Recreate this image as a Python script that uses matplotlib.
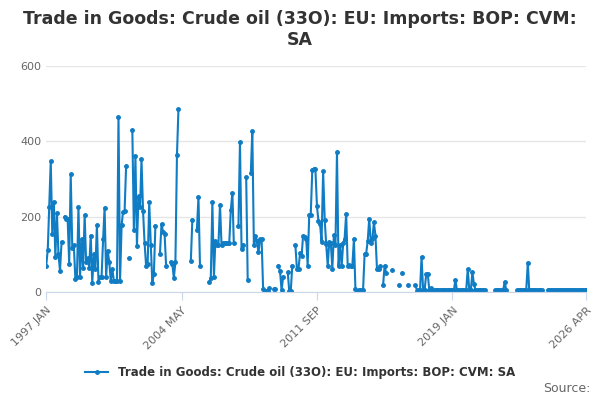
import matplotlib
matplotlib.use("Agg")
import matplotlib.pyplot as plt
import numpy as np
import pandas as pd

N = None
# monthly values, Jan 1997 .. Apr 2026 (None = no data)
vals_1997_2001 = [70, 112, 225, 347, 155, 240, 94, 210, 100, 57, 133, N, 200, 195, 195, 75, 312, 117, 125, 35,
                  40, 225, 40, 140, 64, 205, 80, 90, 65, 150, 24, 100, 60, 178, 27, 40, 40, 140, 224, 40,
                  110, 80, 30, 60, 30, 30, 30, 465, 30, 178, 213, 216, 335, N, 90, N, 430, 165, 360]
vals_2001_2006 = [123, 254, 225, 352, 214, 130, 68, 75, 238, 125, 25, 48, 176, N, N, 101, 181, 160, 155, 68,
                  N, N, 80, 75, 37, 80, 365, 485, N, N, N, N, N, N, N,
                  82, 192, N, N, 165, 253, 70, N, N, N, N, N,
                  27, 37, 238, 40, 135, 125, 125, 232, 125, 130]
vals_2006_2011 = [130, 130, 130, 130, 218, 263, 130, N, N, 175, 398, 115, 125, N, 305, 32, N, 317, 427, 125,
                  150, 135, 105, 140, 140,
                  8, 3, 3, 3, 10, N, N, 7, 7, N, 70, 55, 5, 40, N, N, 52, 3, 3,
                  70, N, 125, 60, 62, 103, 95, 150, 145, 140, 70, 205, 205, 325, 326]
vals_2011_2015 = [326, 228, 188, 180, 134, 321, 192, 128, 70, 133, 130, 62, 152, 125, 371, 68, 125, 68, 130, 142,
                  208, 70, 72, 70, 70, 140, 8, 3, 5, 5, 5, 5, 102, 102, 135, 195, 130, 140, 185, 150,
                  62, 62, 68, N, 18, 70, 50, N, N, N, 58, N, N, N, 18, N, 50, N, N, N,
                  18, N, N, N, N, 18, 3, 5, 5]
vals_2017_2026 = [93, 5, 5, 48, 48, 5, 10] + [5] * 15 + \
                 [32, 5, 5, 5, 5, 5, 5, 5, 61, 5, 5, 53, 22, 5, 5, 5, 5, 5, 5, 5] + [N] * 6 + \
                 [5, 5, 5, 5, 5, 5, 27, 5] + [N] * 6 + \
                 [5, 5, 5, 5, 5, 5, 5, 78, 5, 5, 5, 5, 5, 5, 5, 5, 5] + [N] * 3 + [5] * 26
values = vals_1997_2001 + vals_2001_2006 + vals_2006_2011 + vals_2011_2015 + vals_2017_2026

dates = pd.date_range("1997-01-01", periods=len(values), freq="MS")
y = np.array([np.nan if v is None else v for v in values], dtype=float)

tick_dates = pd.to_datetime(["1997-01-01", "2004-05-01", "2011-09-01", "2019-01-01", "2026-04-01"])
tick_labels = ["1997 JAN", "2004 MAY", "2011 SEP", "2019 JAN", "2026 APR"]
label = "Trade in Goods: Crude oil (33O): EU: Imports: BOP: CVM: SA"
color = "#0f7cc4"

fig = plt.figure(figsize=(6, 4), dpi=100)
ax = fig.add_axes([0.077, 0.27, 0.9, 0.565])
ax.plot(dates, y, color=color, lw=1.5, marker="o", ms=2.5)
ax.set_ylim(0, 600)
ax.set_yticks([0, 200, 400, 600])
ax.set_xlim(tick_dates[0], tick_dates[-1])
ax.set_xticks(tick_dates)
ax.set_xticklabels(tick_labels, rotation=45, ha="right", rotation_mode="anchor", fontsize=8, color="#666666")
ax.tick_params(axis="y", length=0, labelsize=8, labelcolor="#666666")
ax.tick_params(axis="x", length=6, color="#ccd6eb")
ax.grid(axis="y", color="#e6e6e6", lw=1)
ax.set_axisbelow(True)
for s in ["top", "right", "left"]:
    ax.spines[s].set_visible(False)
ax.spines["bottom"].set_color("#ccd6eb")

fig.suptitle("Trade in Goods: Crude oil (33O): EU: Imports: BOP: CVM:\nSA", fontsize=12.5,
             fontweight="bold", color="#333333", y=0.975)
h, = ax.plot([], [], color=color, lw=1.5, marker="o", ms=2.5)
fig.legend([h], [label], loc="center", bbox_to_anchor=(0.5, 0.068), frameon=False,
           prop={"size": 8.5, "weight": "bold"}, labelcolor="#333333")
fig.text(0.985, 0.02, "Source:", ha="right", fontsize=9, color="#666666")
fig.savefig("out.png", dpi=100)
